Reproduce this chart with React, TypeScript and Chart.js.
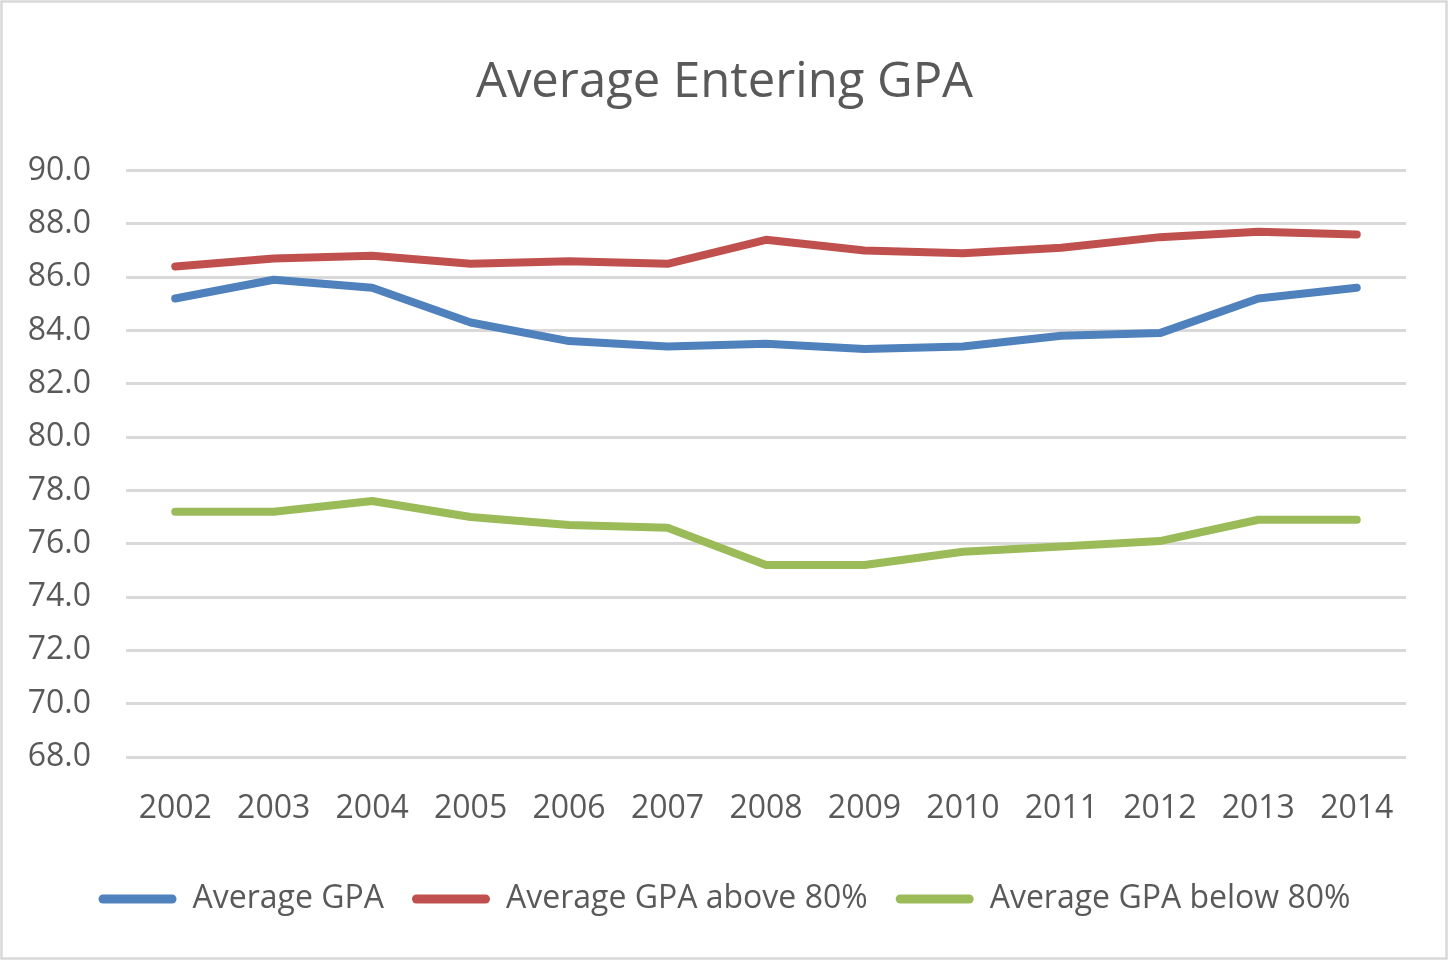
import React, { useEffect, useRef } from "react";
import { Chart, registerables } from "chart.js";

Chart.register(...registerables);

const years = ["2002", "2003", "2004", "2005", "2006", "2007", "2008", "2009", "2010", "2011", "2012", "2013", "2014"];
const averageGPA = [85.2, 85.9, 85.6, 84.3, 83.6, 83.4, 83.5, 83.3, 83.4, 83.8, 83.9, 85.2, 85.6];
const aboveGPA = [86.4, 86.7, 86.8, 86.5, 86.6, 86.5, 87.4, 87.0, 86.9, 87.1, 87.5, 87.7, 87.6];
const belowGPA = [77.2, 77.2, 77.6, 77.0, 76.7, 76.6, 75.2, 75.2, 75.7, 75.9, 76.1, 76.9, 76.9];
const seriesNames = ["Average GPA", "Average GPA above 80%", "Average GPA below 80%"];
const seriesColors = ["#4F81BD", "#C0504D", "#9BBB59"];

const FONT = "'Open Sans', 'Noto Sans', sans-serif";
const TEXT = "#595959";

const borderPlugin = {
  id: "outerBorder",
  beforeDraw(chart: any) {
    const ctx = chart.ctx;
    ctx.save();
    ctx.fillStyle = "#ffffff";
    ctx.fillRect(0, 0, chart.width, chart.height);
    ctx.strokeStyle = "#d9d9d9";
    ctx.lineWidth = 2.5;
    ctx.strokeRect(1.5, 1.5, chart.width - 4, chart.height - 5);
    ctx.restore();
  },
};

export default function App() {
  const ref = useRef<HTMLCanvasElement>(null);
  useEffect(() => {
    document.body.style.margin = "0";
    const canvas = ref.current;
    if (!canvas) return;
    const series = [averageGPA, aboveGPA, belowGPA];
    const chart = new Chart(canvas, {
      type: "line",
      data: {
        labels: years,
        datasets: series.map((d, i) => ({
          label: seriesNames[i],
          data: d,
          borderColor: seriesColors[i],
          backgroundColor: seriesColors[i],
          borderWidth: 8,
          borderCapStyle: "round",
          borderJoinStyle: "round",
          pointRadius: 0,
          pointHoverRadius: 0,
          tension: 0,
          fill: false,
          yAxisID: "y",
        })),
      },
      options: {
        responsive: false,
        animation: false,
        layout: { padding: { left: 0, right: 0, top: 0, bottom: 37 } },
        plugins: {
          tooltip: { enabled: false },
          title: {
            display: true,
            text: "Average Entering GPA",
            color: TEXT,
            font: { family: FONT, size: 49, weight: "normal" },
            padding: { top: 54, bottom: 57.7 },
          },
          legend: {
            display: true,
            position: "bottom",
            labels: {
              color: TEXT,
              font: { family: FONT, size: 32 },
              boxWidth: 78,
              boxHeight: 9,
              padding: 28,
              useBorderRadius: true,
              borderRadius: 4.5,
              generateLabels: (c: any) =>
                Chart.defaults.plugins.legend.labels.generateLabels(c).map((l: any) => ({ ...l, lineWidth: 0 })),
            },
          },
        },
        scales: {
          x: {
            offset: true,
            grid: { display: false, drawTicks: false },
            border: { display: false },
            ticks: { color: TEXT, font: { family: FONT, size: 32 }, padding: 33, maxRotation: 0, autoSkip: false },
            afterFit: (s: any) => {
              s.height = 98;
            },
          },
          y: {
            min: 68,
            max: 90,
            grid: { color: "#d9d9d9", lineWidth: 3, drawTicks: false },
            border: { display: false },
            ticks: {
              stepSize: 2,
              color: TEXT,
              font: { family: FONT, size: 32 },
              padding: 35,
              callback: (v: any) => Number(v).toFixed(1),
            },
            afterFit: (s: any) => {
              s.width = 126;
            },
          },
          yRightSpace: {
            position: "right",
            min: 68,
            max: 90,
            grid: { display: false, drawTicks: false },
            border: { display: false },
            ticks: { display: false },
            afterFit: (s: any) => {
              s.width = 43;
            },
          },
        },
      },
      plugins: [borderPlugin],
    } as any);
    return () => chart.destroy();
  }, []);
  return (
    <div style={{ position: "absolute", left: 0, top: 0, width: 1449, height: 962 }}>
      <canvas ref={ref} width={1449} height={962} style={{ display: "block" }} />
    </div>
  );
}
